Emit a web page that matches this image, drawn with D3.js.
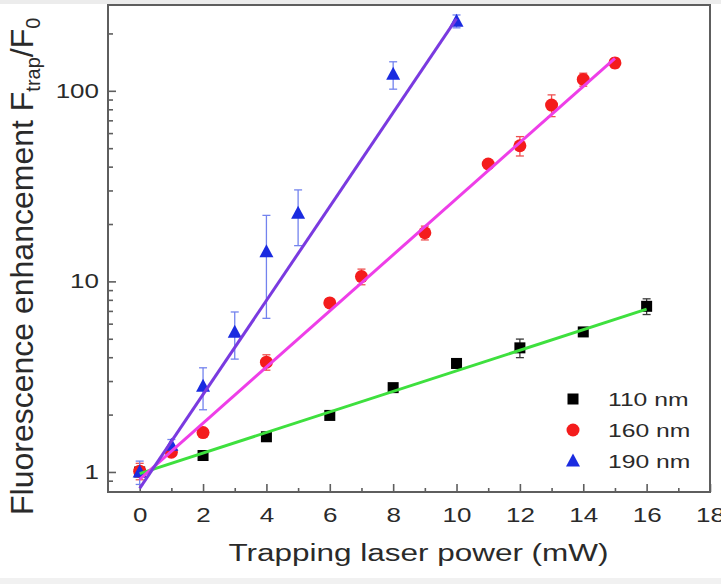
<!DOCTYPE html>
<html><head><meta charset="utf-8">
<script src="https://cdn.jsdelivr.net/npm/d3@7"></script>
<style>
body{margin:0;background:#fff;}
text{font-family:"Liberation Sans",Arial,Helvetica,sans-serif;}
</style>
</head><body>
<svg id="chart" width="721" height="584"></svg>
<script>
// ---- data ----
const seriesNames = ["110 nm", "160 nm", "190 nm"];

const x110 = [0, 2, 4, 6, 8, 10, 12, 14, 16];
const y110 = [1.0, 1.22, 1.53, 1.98, 2.77, 3.71, 4.48, 5.43, 7.40];
const e110 = [0.05, 0.04, 0.05, 0.06, 0.08, 0.2, 0.5, 0.15, 0.7];

const x160 = [0, 1, 2, 4, 6, 7, 9, 11, 12, 13, 14, 15];
const y160 = [1.01, 1.27, 1.61, 3.77, 7.71, 10.6, 18.0, 41.3, 51.5, 84.2, 114.7, 140];
const e160 = [0.1, 0.05, 0.05, 0.35, 0.4, 1.0, 1.5, 2, 6, 11, 9, 8];

const x190 = [0, 1, 2, 3, 4, 5, 8, 10];
const y190 = [1.0, 1.38, 2.82, 5.41, 14.3, 22.8, 122, 232];
const e190 = [0.14, 0.1, 0.7, 1.5, 7.9, 7.4, 20, 18];

// fitted lines: [x, y] end points
const fit110 = [[0, 0.98], [16, 7.15]];
const fit160 = [[0, 0.915], [15, 148]];
const fit190 = [[0, 0.82], [10, 239]];

const xTickValues = [0, 2, 4, 6, 8, 10, 12, 14, 16, 18];
const xMinorValues = [1, 3, 5, 7, 9, 11, 13, 15, 17];
const yTickValues = [1, 10, 100];
const yMinorValues = [0.9, 2, 3, 4, 5, 6, 7, 8, 9, 20, 30, 40, 50, 60, 70, 80, 90, 200];

const xLabel = "Trapping laser power (mW)";

// ---- layout ----
const W = 721, H = 584;
const L = 108, R = 710, T = 5, B = 492;
const svg = d3.select("#chart");
const x = d3.scaleLinear().domain([-1, 18]).range([L, R]);
const y = d3.scaleLog().domain([0.785, 282]).range([B, T]);

const frameColor = "#5e5e5e";
const textColor = "#2a2a2a";
const sx = 1.3;

// faint page bands seen at the top and bottom edges of the reference
svg.append("rect").attr("x", 0).attr("y", 0).attr("width", W).attr("height", 4).attr("fill", "#ececec");
svg.append("rect").attr("x", 0).attr("y", 578).attr("width", W).attr("height", 6).attr("fill", "#f1f1f1");

// axes
const gx = svg.append("g").attr("transform", `translate(0,${B})`)
  .call(d3.axisBottom(x).tickValues(xTickValues).tickFormat(d3.format("d"))
        .tickSize(-8).tickPadding(16));
const gxm = svg.append("g").attr("transform", `translate(0,${B})`)
  .call(d3.axisBottom(x).tickValues(xMinorValues).tickFormat("").tickSize(-4));
const gy = svg.append("g").attr("transform", `translate(${L},0)`)
  .call(d3.axisLeft(y).tickValues(yTickValues).tickFormat(d3.format("d"))
        .tickSize(-8).tickPadding(9));
const gym = svg.append("g").attr("transform", `translate(${L},0)`)
  .call(d3.axisLeft(y).tickValues(yMinorValues).tickFormat("").tickSize(-5));

[gx, gxm, gy, gym].forEach(g => {
  g.select(".domain").remove();
  g.selectAll(".tick line").attr("stroke", frameColor).attr("stroke-width", 1.6);
});
gx.selectAll(".tick text").attr("font-size", 20).attr("fill", textColor)
  .attr("transform", `scale(${sx},1)`);
gy.selectAll(".tick text").attr("font-size", 20).attr("fill", textColor)
  .attr("x", -9 / sx).attr("transform", `scale(${sx},1)`);

// frame
svg.append("rect").attr("x", L).attr("y", T).attr("width", R - L).attr("height", B - T)
  .attr("fill", "none").attr("stroke", frameColor).attr("stroke-width", 2);

// axis titles
svg.append("text").attr("x", x(8.8)).attr("y", 561)
  .attr("text-anchor", "middle").attr("font-size", 23.5).attr("fill", textColor)
  .attr("textLength", 380).attr("lengthAdjust", "spacingAndGlyphs")
  .text(xLabel);

const yt = svg.append("text").attr("transform", "translate(33,515) rotate(-90)")
  .attr("font-size", 32).attr("fill", textColor);
yt.append("tspan").text("Fluorescence enhancement F");
yt.append("tspan").attr("font-size", 20).attr("dy", 7).text("trap");
yt.append("tspan").attr("dy", -7).text("/F");
yt.append("tspan").attr("font-size", 20).attr("dy", 7).text("0");

// series definitions
const series = [
  {name: seriesNames[0], xs: x110, ys: y110, es: e110, fit: fit110,
   color: "#000000", errColor: "#3a3a3a", lineColor: "#3ee03e", shape: "square"},
  {name: seriesNames[1], xs: x160, ys: y160, es: e160, fit: fit160,
   color: "#f41c1c", errColor: "#ee5050", lineColor: "#ee3ee8", shape: "circle"},
  {name: seriesNames[2], xs: x190, ys: y190, es: e190, fit: fit190,
   color: "#1a2be0", errColor: "#7383ee", lineColor: "#7a3ae0", shape: "triangle"}
];

function drawMarker(g, shape, color, cx, cy) {
  if (shape === "square") {
    g.append("rect").attr("x", cx - 5.5).attr("y", cy - 5.5).attr("width", 11).attr("height", 11)
      .attr("fill", color);
  } else if (shape === "circle") {
    g.append("circle").attr("cx", cx).attr("cy", cy).attr("r", 6.5).attr("fill", color);
  } else {
    g.append("path").attr("d", `M${cx},${cy - 7.5}L${cx + 7},${cy + 5.5}L${cx - 7},${cy + 5.5}Z`)
      .attr("fill", color);
  }
}

const plot = svg.append("g");
// error bars
series.forEach(s => {
  const g = plot.append("g");
  s.xs.forEach((xv, i) => {
    const yv = s.ys[i], e = s.es[i];
    const cx = x(xv), yTop = y(yv + e), yBot = y(Math.max(yv - e, 0.786));
    g.append("line").attr("x1", cx).attr("x2", cx).attr("y1", yTop).attr("y2", yBot)
      .attr("stroke", s.errColor).attr("stroke-width", 1.3);
    [yTop, yBot].forEach(yy => g.append("line").attr("x1", cx - 4).attr("x2", cx + 4)
      .attr("y1", yy).attr("y2", yy).attr("stroke", s.errColor).attr("stroke-width", 1.3));
  });
});
// markers
series.forEach(s => {
  const g = plot.append("g");
  s.xs.forEach((xv, i) => drawMarker(g, s.shape, s.color, x(xv), y(s.ys[i])));
});

// fit lines
const line = d3.line().x(d => x(d[0])).y(d => y(d[1]));
series.forEach(s => {
  plot.append("path").attr("d", line(s.fit)).attr("fill", "none")
    .attr("stroke", s.lineColor).attr("stroke-width", 3);
});

// legend
const legY = [399, 430, 461];
series.forEach((s, i) => {
  const g = svg.append("g");
  drawMarker(g, s.shape, s.color, 573, legY[i]);
  g.append("text").attr("x", 608 / sx).attr("y", legY[i]).attr("dy", "0.35em")
    .attr("transform", `scale(${sx},1)`)
    .attr("font-size", 19).attr("fill", textColor).text(s.name);
});
</script>
</body></html>
